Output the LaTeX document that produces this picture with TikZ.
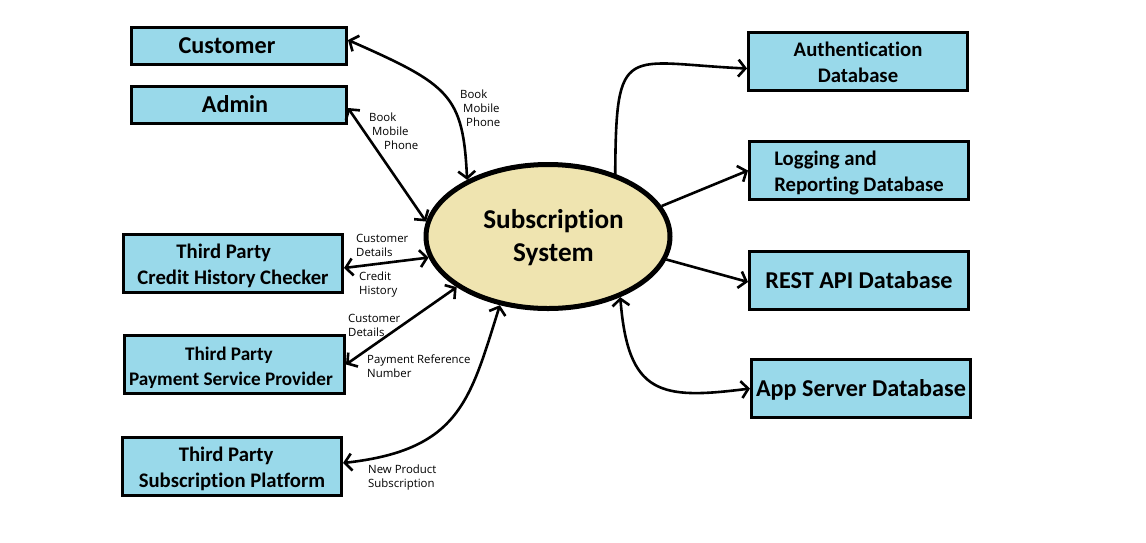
\documentclass[tikz,border=0pt]{standalone}
\usepackage{fontspec}
\setmainfont{Carlito}[Ligatures=NoCommon]
\newfontfamily\labfont{Open Sans}
\usetikzlibrary{arrows.meta,shapes.geometric}
\definecolor{boxblue}{HTML}{99D9EA}
\definecolor{sysfill}{HTML}{EFE4B0}
\newcommand\twoline[3]{\begin{tabular}{#1}\rule{0pt}{23.8pt}#2\\#3\end{tabular}}
\begin{document}
\begin{tikzpicture}[x=1pt,y=-1pt,
  box/.style={draw=black, line width=3pt, fill=boxblue, inner sep=0pt,
    minimum width=219pt, minimum height=58pt, font=\bfseries\fontsize{20.7}{26}\selectfont},
  big/.style={font=\bfseries\fontsize{24.2}{28}\selectfont, text height=15.5pt, text depth=0pt},
  lab/.style={anchor=north west, inner sep=0pt, align=left, font=\labfont\fontsize{11.4}{14}\selectfont},
  conn/.style={line width=2.6pt, line join=round},
  both/.style={conn, {Straight Barb[length=7pt,width=17pt]}-{Straight Barb[length=7pt,width=17pt]}},
  one/.style={conn, -{Straight Barb[length=7pt,width=17pt]}}
]
\fill[white] (0,0) rectangle (1146,542);
\useasboundingbox (0,0) rectangle (1146,542);

% left boxes
\node[box, big, minimum width=215pt, minimum height=37pt] (cust) at (239,46) {Customer\hspace*{24pt}};
\node[box, big, minimum width=215pt, minimum height=37pt] (admin) at (239,105) {Admin\hspace*{8pt}};
\node[box] (credit) at (233,263.5) {\twoline{@{}l@{}}{\hspace*{39pt}Third Party}{Credit History Checker}};
\node[box, minimum width=220pt, font=\bfseries\fontsize{19.2}{25}\selectfont] (pay) at (234.5,364.5) {\twoline{@{}l@{\hspace{7pt}}}{\hspace*{56pt}Third Party}{Payment Service Provider}};
\node[box] (sub) at (232,466.5) {\twoline{@{}l@{}}{\hspace*{40pt}Third Party}{Subscription Platform}};

% right boxes
\node[box] (auth) at (858,61.5) {\twoline{@{}c@{}}{Authentication}{Database}};
\node[box] (log) at (859,170.5) {\twoline{@{}l@{}}{Logging and}{Reporting Database}};
\node[box, big] (rest) at (859,280.5) {REST API Database};
\node[box, big] (app) at (861,388.5) {App Server Database};

% central system
\node[ellipse, draw=black, line width=5pt, fill=sysfill, inner sep=0pt,
  minimum width=244pt, minimum height=144pt,
  font=\bfseries\fontsize{27.2}{33}\selectfont] (sys) at (548,236.5)
  {\begin{tabular}{@{\hspace{11pt}}c@{}}\rule{0pt}{27pt}Subscription\\System\end{tabular}};

% connectors
\draw[both] ([yshift=6pt]cust.east) .. controls (450,85) and (463,95) .. (sys.145.4);
\draw[both] ([yshift=-3pt]admin.east) -- (sys.173);
\draw[both] ([yshift=-4.5pt]credit.east) -- (sys.190.3);
\draw[both] (pay.east) -- (sys.209.6);
\draw[both] ([yshift=3.5pt]sub.east) .. controls (460,450) and (470,400) .. (sys.235);
\draw[one] (sys.43.5) .. controls (616,40) and (625,63) .. ([yshift=-7pt]auth.west);
\draw[one] (sys.15.2) -- (log.west);
\draw[one] (sys.-11.1) -- ([yshift=-1.5pt]rest.west);
\draw[both] (sys.-40) .. controls (628,395) and (660,400) .. (app.west);

% labels
\node[lab] (l1) at (460,90) {Book\\\hspace*{3pt}Mobile\\\hspace*{6pt}Phone};
\node[lab] (l2) at (369,113) {Book\\\hspace*{3pt}Mobile\\\hspace*{15pt}Phone};
\node[lab] (l3) at (356,234) {Customer\\Details};
\node[lab] (l4) at (359,272) {Credit\\History};
\node[lab] (l5) at (348,314) {Customer\\Details};
\node[lab] (l6) at (367,355) {Payment Reference\\Number};
\node[lab] (l7) at (368,465) {New Product\\Subscription};
\end{tikzpicture}
\end{document}
